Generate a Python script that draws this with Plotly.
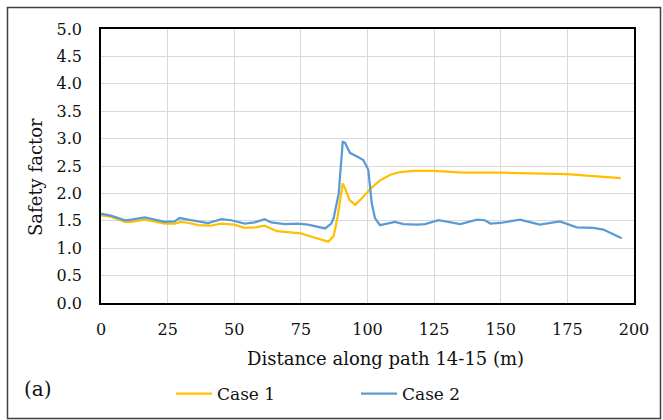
import plotly.graph_objects as go

# Data
case1_x = [0, 4, 9, 11.4, 16.4, 20, 24, 27.6, 30, 33, 36.4, 41, 45, 50, 54, 58, 61.4,
           66, 70, 75, 79.7, 85.3, 87.3, 88.8, 90.7, 91.6, 93.3, 95.4, 97.9, 101,
           104.8, 108.6, 112.3, 117.3, 124.8, 136, 150, 163.5, 175, 183.5, 195]
case1_y = [1.60, 1.57, 1.48, 1.48, 1.52, 1.49, 1.45, 1.45, 1.48, 1.46, 1.42, 1.41, 1.45,
           1.43, 1.37, 1.38, 1.41, 1.31, 1.29, 1.27, 1.20, 1.12, 1.22, 1.58, 2.18, 2.09,
           1.88, 1.79, 1.91, 2.08, 2.24, 2.34, 2.39, 2.41, 2.41, 2.38, 2.38, 2.37, 2.35,
           2.32, 2.28]

case2_x = [0, 4, 9, 11.4, 16.4, 20, 24, 27.6, 29.5, 32.6, 36.4, 40.2, 45.2, 48.9, 53.9,
           57.7, 61.4, 63.9, 68.9, 73.9, 77.7, 81, 84.1, 86.4, 87.3, 89.2, 90.7, 91.6,
           93.4, 96.6, 98.4, 100.3, 101.6, 102.8, 104.7, 110.3, 113.5, 118.5, 121.6,
           126.6, 129.8, 134.8, 141.1, 144, 146.1, 149.7, 157.2, 164.7, 172.2, 178.5,
           184.7, 188.5, 195.4]
case2_y = [1.63, 1.59, 1.51, 1.52, 1.56, 1.52, 1.48, 1.49, 1.55, 1.52, 1.49, 1.46, 1.53,
           1.51, 1.45, 1.47, 1.53, 1.47, 1.44, 1.45, 1.43, 1.40, 1.36, 1.45, 1.55, 2.00,
           2.94, 2.92, 2.74, 2.66, 2.61, 2.43, 1.82, 1.55, 1.42, 1.48, 1.44, 1.43, 1.44,
           1.51, 1.48, 1.44, 1.52, 1.51, 1.45, 1.46, 1.52, 1.43, 1.49, 1.38, 1.37, 1.34,
           1.18]

x_ticks = [0, 25, 50, 75, 100, 125, 150, 175, 200]
y_ticks = [0.0, 0.5, 1.0, 1.5, 2.0, 2.5, 3.0, 3.5, 4.0, 4.5, 5.0]

FONT = "DejaVu Serif"
TXT = "#111111"
W, H = 663, 420


def cx(px):
    return px / W


def cy(py):
    return 1 - py / H


fig = go.Figure()
fig.add_trace(go.Scatter(x=case1_x, y=case1_y, mode="lines", name="Case 1",
                         line=dict(color="#FFC000", width=2.25)))
fig.add_trace(go.Scatter(x=case2_x, y=case2_y, mode="lines", name="Case 2",
                         line=dict(color="#5B9BD5", width=2.25)))

fig.update_layout(
    width=W, height=H,
    margin=dict(l=101, r=29, t=29, b=117, autoexpand=False),
    paper_bgcolor="white", plot_bgcolor="white",
    font=dict(family=FONT, size=16, color=TXT),
    showlegend=True,
    legend=dict(orientation="h", xref="container", yref="container",
                x=cx(171), xanchor="left", y=cy(394), yanchor="middle",
                font=dict(family=FONT, size=17, color=TXT),
                itemwidth=36,
                entrywidth=134, entrywidthmode="pixels",
                bgcolor="rgba(0,0,0,0)", borderwidth=0),
    xaxis=dict(range=[0, 200], tickvals=x_ticks, ticktext=[str(v) for v in x_ticks],
               showgrid=True, gridcolor="#d9d9d9", gridwidth=1,
               showline=True, linecolor="black", linewidth=1.5, mirror=True,
               ticks="", ticklabelstandoff=11, zeroline=False,
               tickfont=dict(family=FONT, size=16, color=TXT)),
    yaxis=dict(range=[0, 5], tickvals=y_ticks, ticktext=[f"{v:.1f}" for v in y_ticks],
               showgrid=True, gridcolor="#d9d9d9", gridwidth=1,
               showline=True, linecolor="black", linewidth=1.5, mirror=True,
               ticks="", ticklabelstandoff=14, zeroline=False,
               tickfont=dict(family=FONT, size=16, color=TXT)),
    annotations=[
        dict(text="Distance along path 14-15 (m)", xref="paper", yref="paper",
             x=(385 - 101) / 533, y=(303 - 358) / 274, xanchor="center", yanchor="middle",
             showarrow=False, font=dict(family=FONT, size=18, color=TXT)),
        dict(text="Safety factor", xref="paper", yref="paper", textangle=-90,
             x=(35 - 101) / 533, y=(303 - 177) / 274, xanchor="center", yanchor="middle",
             showarrow=False, font=dict(family=FONT, size=18, color=TXT)),
        dict(text="(a)", xref="paper", yref="paper",
             x=(22 - 101) / 533, y=(303 - 389) / 274, xanchor="left", yanchor="middle",
             showarrow=False, font=dict(family=FONT, size=20, color=TXT)),
    ],
    shapes=[
        dict(type="rect", xref="paper", yref="paper",
             x0=(7.5 - 101) / 533, x1=(660.5 - 101) / 533,
             y0=(303 - 418.5) / 274, y1=(303 - 7.5) / 274,
             line=dict(color="#404040", width=1.5), fillcolor="rgba(0,0,0,0)",
             layer="below"),
    ],
)

fig.write_html("out.html")
